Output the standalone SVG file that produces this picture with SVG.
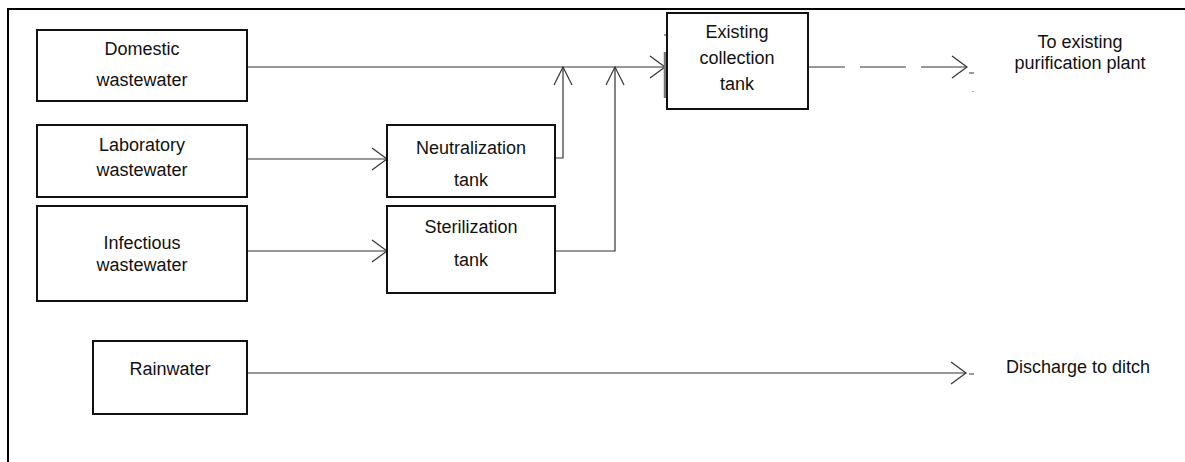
<svg xmlns="http://www.w3.org/2000/svg" width="1185" height="462" viewBox="0 0 1185 462">
  <style>
    .box { fill: #fff; stroke: #111; stroke-width: 2; }
    .lbl { font-family: "Liberation Sans", Arial, sans-serif; font-size: 18px; fill: #111; text-anchor: middle; }
    .lbl-start { font-family: "Liberation Sans", Arial, sans-serif; font-size: 18px; fill: #111; }
    .flow { fill: none; stroke: #333; stroke-width: 1.2; }
    .frame { fill: none; stroke: #000; stroke-width: 2; }
  </style>
  <defs>
    <marker id="arrH" markerUnits="userSpaceOnUse" markerWidth="20" markerHeight="26" viewBox="-17 -13 20 26" refX="0" refY="0" orient="auto">
      <path d="M-15,-11 L0,0 L-15,11" fill="none" stroke="#333" stroke-width="1.2"/>
    </marker>
    <marker id="arrV" markerUnits="userSpaceOnUse" markerWidth="22" markerHeight="22" viewBox="-20 -11 22 22" refX="0" refY="0" orient="auto">
      <path d="M-18,-9 L0,0 L-18,9" fill="none" stroke="#333" stroke-width="1.2"/>
    </marker>
  </defs>

  <rect width="1185" height="462" fill="#fff"/>
  <!-- outer frame: top and left edges -->
  <path class="frame" d="M8,462 L8,9 L1185,9"/>

  <!-- connectors -->
  <g id="connectors">
    <path class="flow" d="M247,67 L665,67" marker-end="url(#arrH)"/>
    <path class="flow" d="M555,158 L563,158 L563,67" marker-end="url(#arrV)"/>
    <path class="flow" d="M555,251 L615,251 L615,67" marker-end="url(#arrV)"/>
    <path class="flow" d="M247,159 L387,159" marker-end="url(#arrH)"/>
    <path class="flow" d="M247,251 L387,251" marker-end="url(#arrH)"/>
    <path class="flow" d="M799,67 L967,67" stroke-dasharray="46 15" marker-end="url(#arrH)"/>
    <path class="flow" d="M247,373 L966,373" marker-end="url(#arrH)"/>
    <!-- inlet stub on the collection tank -->
    <path d="M665,52 L665,98" stroke="#777" stroke-width="2.5"/>
    <path d="M664,35 L667,35" stroke="#333" stroke-width="1"/>
    <!-- small outlet ticks -->
    <path d="M969,73 L974,73" stroke="#333" stroke-width="1"/>
    <path d="M972.5,91 L973.5,92" stroke="#555" stroke-width="1"/>
    <path d="M969,374 L974,374" stroke="#333" stroke-width="1"/>
  </g>

  <g id="domestic">
    <rect class="box" x="37" y="30" width="210" height="71"/>
    <text class="lbl" x="142" y="55">Domestic</text>
    <text class="lbl" x="142" y="86">wastewater</text>
  </g>

  <g id="laboratory">
    <rect class="box" x="37" y="125" width="210" height="72"/>
    <text class="lbl" x="142" y="151">Laboratory</text>
    <text class="lbl" x="142" y="176">wastewater</text>
  </g>

  <g id="infectious">
    <rect class="box" x="37" y="206" width="210" height="95"/>
    <text class="lbl" x="142" y="249">Infectious</text>
    <text class="lbl" x="142" y="271">wastewater</text>
  </g>

  <g id="rainwater">
    <rect class="box" x="93" y="341" width="154" height="73"/>
    <text class="lbl" x="170" y="375">Rainwater</text>
  </g>

  <g id="neutralization">
    <rect class="box" x="387" y="125" width="168" height="72"/>
    <text class="lbl" x="471" y="154">Neutralization</text>
    <text class="lbl" x="471" y="186">tank</text>
  </g>

  <g id="sterilization">
    <rect class="box" x="387" y="206" width="168" height="87"/>
    <text class="lbl" x="471" y="233">Sterilization</text>
    <text class="lbl" x="471" y="266">tank</text>
  </g>

  <g id="collection">
    <rect class="box" x="667" y="13" width="141" height="96"/>
    <text class="lbl" x="737" y="38">Existing</text>
    <text class="lbl" x="737" y="64">collection</text>
    <text class="lbl" x="737" y="90">tank</text>
  </g>

  <g id="purification">
    <text class="lbl" x="1080" y="48">To existing</text>
    <text class="lbl" x="1080" y="69">purification plant</text>
  </g>

  <g id="ditch">
    <text class="lbl-start" x="1006" y="373">Discharge to ditch</text>
  </g>
</svg>
